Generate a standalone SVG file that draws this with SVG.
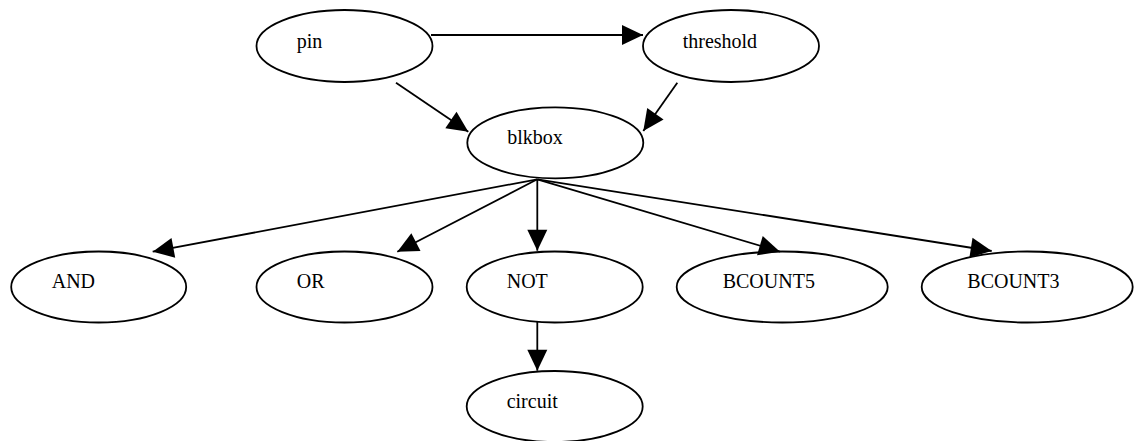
<svg xmlns="http://www.w3.org/2000/svg" width="1134" height="441" viewBox="0 0 1134 441">
<style>
ellipse.n{fill:none;stroke:#000;stroke-width:1.8}
text.l{font-family:'Liberation Serif','Times New Roman',Times,serif;font-size:20px;fill:#000}
line.e{stroke:#000;stroke-width:1.8;fill:none}
</style>
<defs>
<marker id="arr" markerUnits="userSpaceOnUse" markerWidth="21" markerHeight="20" refX="21" refY="10" orient="auto" overflow="visible">
<path d="M0,0 L21,10 L0,20 z" fill="#000"/>
</marker>
</defs>
<rect width="1134" height="441" fill="#fff"/>
<g id="edges">
<line class="e" x1="431" y1="35" x2="643" y2="35" marker-end="url(#arr)"/>
<line class="e" x1="396" y1="82.7" x2="468.3" y2="131.7" marker-end="url(#arr)"/>
<line class="e" x1="677.3" y1="82.7" x2="643.3" y2="131" marker-end="url(#arr)"/>
<line class="e" x1="537.3" y1="179.3" x2="152.7" y2="251.7" marker-end="url(#arr)"/>
<line class="e" x1="537.3" y1="179.3" x2="397.3" y2="251.7" marker-end="url(#arr)"/>
<line class="e" x1="537.3" y1="179.3" x2="537.3" y2="250.7" marker-end="url(#arr)"/>
<line class="e" x1="537.3" y1="179.3" x2="780" y2="251.7" marker-end="url(#arr)"/>
<line class="e" x1="537.3" y1="179.3" x2="991.7" y2="251" marker-end="url(#arr)"/>
<line class="e" x1="537.3" y1="321.7" x2="537.3" y2="370.7" marker-end="url(#arr)"/>
</g>
<g id="pin"><ellipse class="n" cx="344.5" cy="46" rx="88" ry="36"/><text class="l" font-family="Liberation Serif, serif" x="296.7" y="48.3">pin</text></g>
<g id="threshold"><ellipse class="n" cx="731" cy="46" rx="88" ry="36"/><text class="l" font-family="Liberation Serif, serif" x="682.7" y="48.3">threshold</text></g>
<g id="blkbox"><ellipse class="n" cx="555.3" cy="142.8" rx="88" ry="35.5"/><text class="l" font-family="Liberation Serif, serif" x="507.3" y="144.2">blkbox</text></g>
<g id="AND"><ellipse class="n" cx="98.7" cy="287" rx="87.5" ry="35.5"/><text class="l" font-family="Liberation Serif, serif" x="51.7" y="288.3">AND</text></g>
<g id="OR"><ellipse class="n" cx="344.5" cy="287" rx="88" ry="35.5"/><text class="l" font-family="Liberation Serif, serif" x="296.7" y="288.3">OR</text></g>
<g id="NOT"><ellipse class="n" cx="554.7" cy="287" rx="88" ry="35.5"/><text class="l" font-family="Liberation Serif, serif" x="506.7" y="288.3">NOT</text></g>
<g id="BCOUNT5"><ellipse class="n" cx="782.2" cy="287" rx="105.5" ry="35.5"/><text class="l" font-family="Liberation Serif, serif" x="722.7" y="288.3">BCOUNT5</text></g>
<g id="BCOUNT3"><ellipse class="n" cx="1027.2" cy="287" rx="105.5" ry="35.5"/><text class="l" font-family="Liberation Serif, serif" x="967.3" y="288.3">BCOUNT3</text></g>
<g id="circuit"><ellipse class="n" cx="554.7" cy="406.5" rx="88" ry="35.5"/><text class="l" font-family="Liberation Serif, serif" x="506.7" y="408">circuit</text></g>
</svg>
